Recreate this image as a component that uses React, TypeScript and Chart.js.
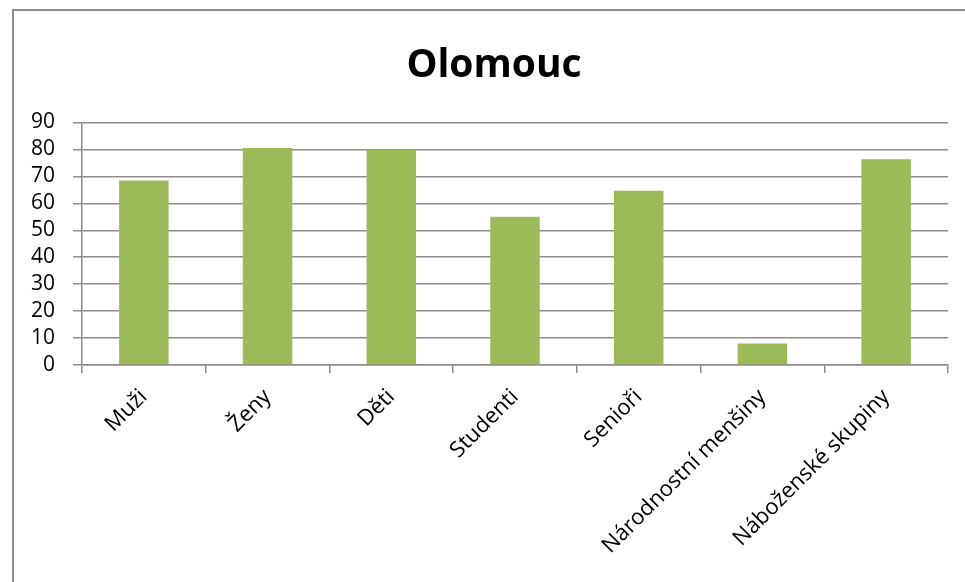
import React, { useEffect, useRef } from "react";
import { Chart, registerables } from "chart.js";

Chart.register(...registerables);

const title = "Olomouc";
const categories = [
  "Muži",
  "Ženy",
  "Děti",
  "Studenti",
  "Senioři",
  "Národnostní menšiny",
  "Náboženské skupiny",
];
const values = [68.5, 80.5, 80, 55, 64.7, 8, 76.4];
const yMin = 0;
const yMax = 90;
const yStep = 10;

const GRID = "#8c8c8c";
const BAR = "#9bbb59";
const FONT = "'Open Sans', sans-serif";

export default function App() {
  const ref = useRef<HTMLCanvasElement | null>(null);

  useEffect(() => {
    if (!ref.current) return;
    const chart = new Chart(ref.current, {
      type: "bar",
      data: {
        labels: categories,
        datasets: [
          {
            data: values,
            backgroundColor: BAR,
            borderWidth: 0,
            barPercentage: 0.4,
            categoryPercentage: 1.0,
          },
        ],
      },
      options: {
        animation: false,
        responsive: false,
        maintainAspectRatio: false,
        layout: { padding: { top: 0, left: 0, right: 0, bottom: 0 } },
        plugins: {
          legend: { display: false },
          tooltip: { enabled: false },
          title: {
            display: true,
            text: title,
            color: "#000",
            font: { family: FONT, size: 39, weight: "bold", lineHeight: 1.2 },
            padding: { top: 31, bottom: 33.7 },
          },
        },
        scales: {
          x: {
            offset: true,
            grid: {
              offset: true,
              display: true,
              drawOnChartArea: false,
              drawTicks: true,
              tickLength: 8,
              color: GRID,
              lineWidth: 1.5,
            },
            border: { display: true, color: GRID, width: 1.5 },
            ticks: {
              color: "#000",
              font: { family: FONT, size: 22 },
              minRotation: 45,
              maxRotation: 45,
              autoSkip: false,
              padding: 11,
            },
            afterFit: (scale: any) => {
              scale.height = 217;
            },
          },
          y: {
            min: yMin,
            max: yMax,
            grid: {
              color: GRID,
              lineWidth: 1.5,
              drawTicks: true,
              tickLength: 9,
            },
            border: { display: true, color: GRID, width: 1.5 },
            ticks: {
              stepSize: yStep,
              autoSkip: false,
              color: "#000",
              font: { family: FONT, size: 21 },
              padding: 18,
            },
            afterFit: (scale: any) => {
              scale.width = 68;
            },
          },
          yRight: {
            type: "linear",
            position: "right",
            display: true,
            grid: { display: false },
            border: { display: false },
            ticks: { display: false },
            afterFit: (scale: any) => {
              scale.width = 26;
            },
          },
        },
      },
    });
    return () => chart.destroy();
  }, []);

  return (
    <div
      style={{
        position: "fixed",
        left: 12,
        top: 9,
        width: 953,
        height: 573,
        overflow: "hidden",
        borderTop: "2px solid #8f8f8f",
        borderLeft: "2px solid #8f8f8f",
        boxSizing: "border-box",
        background: "#fff",
      }}
    >
      <canvas
        ref={ref}
        width={960}
        height={571}
        style={{ display: "block", width: 960, height: 571 }}
      />
    </div>
  );
}
